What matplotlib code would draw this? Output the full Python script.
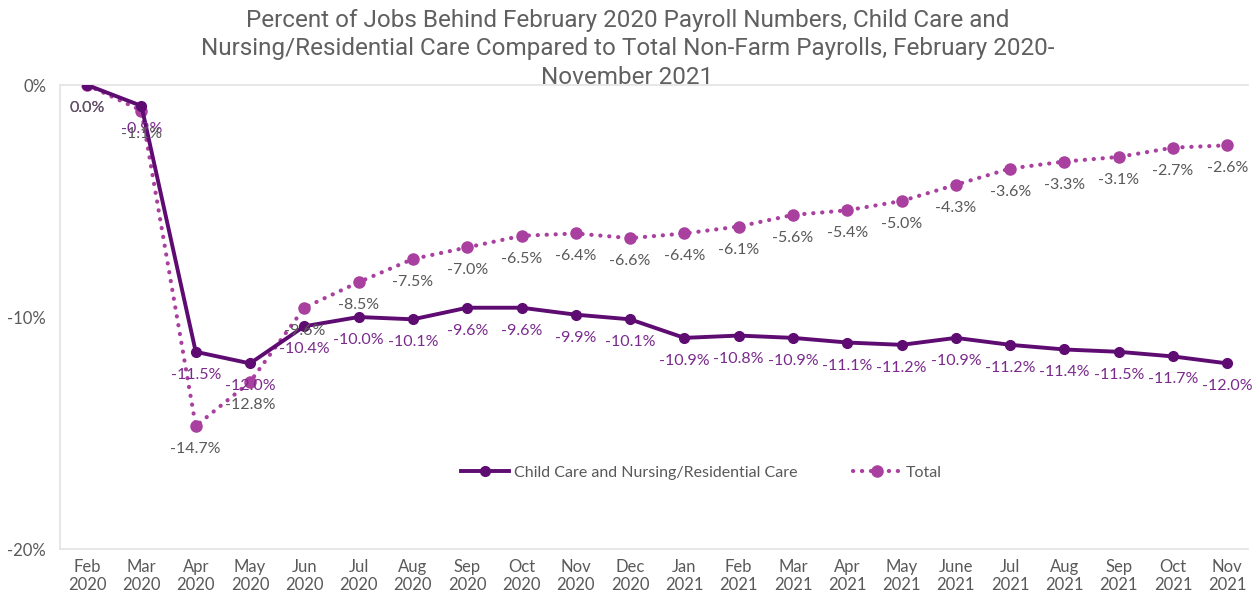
import matplotlib
matplotlib.use("Agg")
import matplotlib.pyplot as plt

months = ["Feb\n2020", "Mar\n2020", "Apr\n2020", "May\n2020", "Jun\n2020", "Jul\n2020",
          "Aug\n2020", "Sep\n2020", "Oct\n2020", "Nov\n2020", "Dec\n2020", "Jan\n2021",
          "Feb\n2021", "Mar\n2021", "Apr\n2021", "May\n2021", "June\n2021", "Jul\n2021",
          "Aug\n2021", "Sep\n2021", "Oct\n2021", "Nov\n2021"]
child_care = [0.0, -0.9, -11.5, -12.0, -10.4, -10.0, -10.1, -9.6, -9.6, -9.9, -10.1, -10.9,
              -10.8, -10.9, -11.1, -11.2, -10.9, -11.2, -11.4, -11.5, -11.7, -12.0]
total = [0.0, -1.1, -14.7, -12.8, -9.6, -8.5, -7.5, -7.0, -6.5, -6.4, -6.6, -6.4,
         -6.1, -5.6, -5.4, -5.0, -4.3, -3.6, -3.3, -3.1, -2.7, -2.6]
yticks = [0, -10, -20]
ytick_labels = ["0%", "-10%", "-20%"]

c_child = "#5e0b72"
c_total = "#a9409f"
c_child_lbl = "#7a2a8c"
c_gray = "#595959"

plt.rcParams['font.family'] = ['Lato', 'DejaVu Sans']

fig = plt.figure(figsize=(12.55, 5.92), dpi=100)
ax = fig.add_axes([60/1255, 1-549/592, 1188/1255, 464/592])

x = list(range(len(months)))
ax.plot(x, child_care, color=c_child, lw=2.8, marker='o', ms=7, zorder=3,
        label="Child Care and Nursing/Residential Care")
ax.plot(x, total, color=c_total, lw=3, ls=(0, (0.05, 2.1)), dash_capstyle='round',
        marker='o', ms=8, zorder=2, label="Total")

for xi, v in zip(x, child_care):
    ax.annotate(f"{v:.1f}%", (xi, v), xytext=(0, -23), textcoords='offset pixels',
                ha='center', va='center', color=c_child_lbl, fontsize=11.5, zorder=4)
for xi, v in zip(x, total):
    ax.annotate(f"{v:.1f}%", (xi, v), xytext=(0, -23), textcoords='offset pixels',
                ha='center', va='center', color=c_gray, fontsize=11.5, zorder=4)

ax.set_xlim(-0.5, 21.38)
ax.set_ylim(-20, 0)
ax.set_yticks(yticks)
ax.set_yticklabels(ytick_labels)
ax.set_xticks(x)
ax.set_xticklabels(months)
ax.tick_params(axis='both', length=0, colors=c_gray, labelsize=12)
ax.tick_params(axis='y', pad=10)
ax.tick_params(axis='x', pad=7)
for s in ax.spines.values():
    s.set_color("#e3e3e3")
    s.set_linewidth(1.2)
ax.spines['right'].set_visible(False)

leg = ax.legend(loc='center', bbox_to_anchor=(0.54, 0.164), ncol=2, frameon=False,
                fontsize=11.5, handlelength=3.0, columnspacing=3.5, handletextpad=0.3)
for t in leg.get_texts():
    t.set_color(c_gray)

fig.text(0.5, 1-49/592, "Percent of Jobs Behind February 2020 Payroll Numbers, Child Care and\n"
         "Nursing/Residential Care Compared to Total Non-Farm Payrolls, February 2020-\n"
         "November 2021", ha='center', va='center', fontsize=17.5, color="#606060",
         family=['Roboto', 'DejaVu Sans'], linespacing=1.28)

fig.savefig("out.png", dpi=100, facecolor='white')
